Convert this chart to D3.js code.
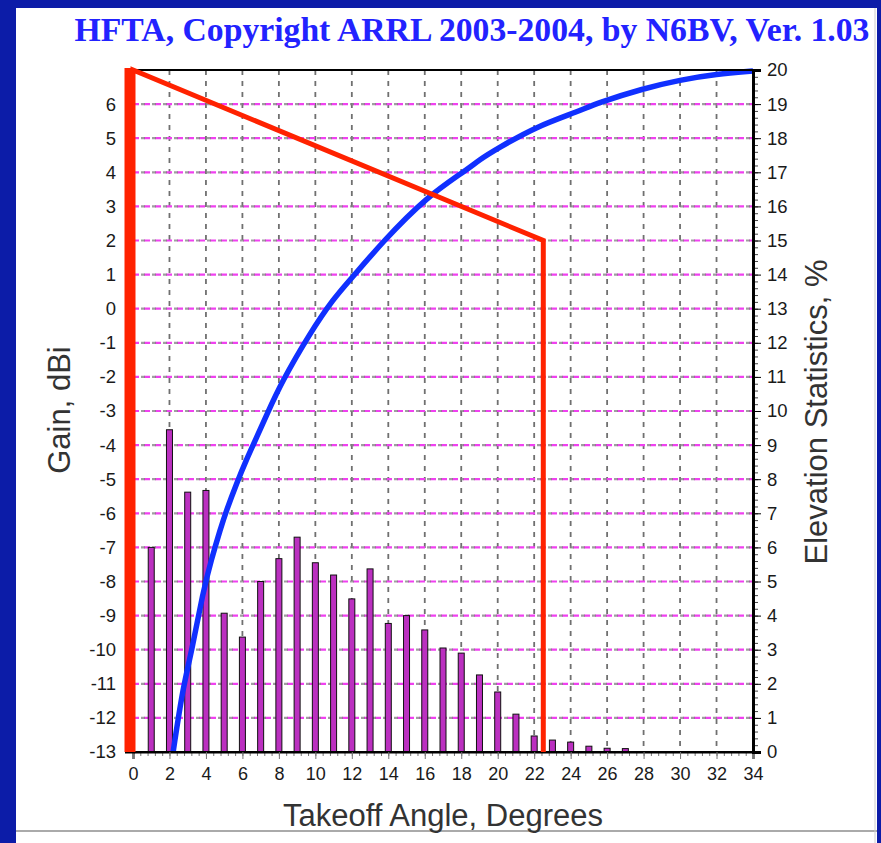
<!DOCTYPE html>
<html>
<head>
<meta charset="utf-8">
<script src="https://cdn.jsdelivr.net/npm/d3@7"></script>
<style>
  body { margin: 0; background: #0c1ca8; }
  .tick text { font-family: "Liberation Sans", Arial, sans-serif; fill: #1a1a1a; }
</style>
</head>
<body>
<div id="chart"></div>
<script>
// ticks
var angleTicks = [0, 2, 4, 6, 8, 10, 12, 14, 16, 18, 20, 22, 24, 26, 28, 30, 32, 34];
var gainTicks = [-13, -12, -11, -10, -9, -8, -7, -6, -5, -4, -3, -2, -1, 0, 1, 2, 3, 4, 5, 6];
var statTicks = [0, 1, 2, 3, 4, 5, 6, 7, 8, 9, 10, 11, 12, 13, 14, 15, 16, 17, 18, 19, 20];

// elevation statistics bars (%)
var barAngle = [1, 2, 3, 4, 5, 6, 7, 8, 9, 10, 11, 12, 13, 14, 15, 16, 17, 18, 19, 20, 21, 22, 23, 24, 25, 26, 27];
var barPct = [6.0, 9.45, 7.62, 7.67, 4.07, 3.37, 5.0, 5.67, 6.3, 5.55, 5.19, 4.49, 5.37, 3.77, 4.0, 3.58, 3.05, 2.9, 2.26, 1.76, 1.11, 0.47, 0.35, 0.29, 0.17, 0.11, 0.1];

// gain curve (dBi)
var gainAngle = [2.2, 2.74, 3.2, 3.84, 4.3, 4.8, 5.1, 5.7, 6.2, 6.8, 7.3, 8.15, 9.7, 11, 11.9, 13.7, 16.1, 18.3, 19, 20, 22.1, 24.5, 25.4, 28, 30, 32, 34];
var gainDbi = [-13, -11.1, -10.1, -8.3, -7.35, -6.45, -5.95, -5.1, -4.45, -3.75, -3.15, -2.15, -0.72, 0.3, 0.84, 1.97, 3.28, 4.07, 4.37, 4.7, 5.34, 5.8, 6.02, 6.46, 6.71, 6.88, 6.97];

// red range outline
var limitAngle = [0, 0, 22.5, 22.5];
var limitGain = [-13, 7, 2, -13];

var W = 881, H = 843;
var pL = 133, pR = 753, pT = 70, pB = 752;

var svg = d3.select("#chart").append("svg").attr("width", W).attr("height", H).style("display", "block");

// blue window frame + white panel
svg.append("rect").attr("width", W).attr("height", H).attr("fill", "#0c1ca8");
svg.append("rect").attr("x", 16).attr("y", 8).attr("width", 861).attr("height", H - 8).attr("fill", "#fff");
svg.append("line").attr("x1", 16).attr("x2", 877).attr("y1", 831).attr("y2", 831).attr("stroke", "#aaa").attr("stroke-width", 2);
svg.append("line").attr("x1", 875).attr("x2", 875).attr("y1", 8).attr("y2", H).attr("stroke", "#ccc").attr("stroke-width", 1);

var x = d3.scaleLinear().domain([0, 34]).range([pL, pR]);
var yG = d3.scaleLinear().domain([-13, 7]).range([pB, pT]);
var yS = d3.scaleLinear().domain([0, 20]).range([pB, pT]);
var plain = function(d) { return String(d); };

// title
svg.append("text").attr("x", 472).attr("y", 41).attr("text-anchor", "middle")
  .style("font-family", "'Liberation Serif', 'Times New Roman', serif").style("font-weight", "bold").style("font-size", "33.7px")
  .attr("fill", "#2222ff").text("HFTA, Copyright ARRL 2003-2004, by N6BV, Ver. 1.03");

// grid
var grid = svg.append("g");
grid.selectAll("vg").data(angleTicks.slice(1, -1)).enter().append("line")
  .attr("x1", function(d) { return x(d); }).attr("x2", function(d) { return x(d); })
  .attr("y1", pT).attr("y2", pB).attr("stroke", "#707070").attr("stroke-width", 1.8).attr("stroke-dasharray", "5,6");
grid.selectAll("hm").data(statTicks.slice(1, -1)).enter().append("line")
  .attr("x1", pL).attr("x2", pR).attr("y1", function(d) { return yS(d); }).attr("y2", function(d) { return yS(d); })
  .attr("stroke", "#f040f0").attr("stroke-width", 2.2).attr("stroke-dasharray", "6,5");
grid.selectAll("hg").data(gainTicks.slice(1)).enter().append("line")
  .attr("x1", pL).attr("x2", pR).attr("y1", function(d) { return yG(d); }).attr("y2", function(d) { return yG(d); })
  .attr("stroke", "#808080").attr("stroke-width", 2.2).attr("stroke-dasharray", "4,7").attr("stroke-dashoffset", 3).attr("opacity", 0.75);

// bars
svg.selectAll("bar").data(barAngle).enter().append("rect")
  .attr("x", function(d) { return x(d) - 3; }).attr("width", 6)
  .attr("y", function(d, i) { return yS(barPct[i]); })
  .attr("height", function(d, i) { return yS(0) - yS(barPct[i]); })
  .attr("fill", "#bb30c0").attr("stroke", "#111").attr("stroke-width", 1);

// gain curve
var gainPts = gainAngle.map(function(a, i) { return [a, gainDbi[i]]; });
svg.append("path").datum(gainPts)
  .attr("d", d3.line().curve(d3.curveBasis).x(function(d) { return x(d[0]); }).y(function(d) { return yG(d[1]); }))
  .attr("fill", "none").attr("stroke", "#1030ff").attr("stroke-width", 5.5);

// frame
svg.append("rect").attr("x", pL).attr("y", pT).attr("width", pR - pL).attr("height", pB - pT)
  .attr("fill", "none").attr("stroke", "#000").attr("stroke-width", 2);

// axes
var xMinor = d3.range(0, 34.01, 0.4);
svg.append("g").attr("transform", "translate(0," + pB + ")")
  .call(d3.axisBottom(x).tickValues(xMinor).tickSize(4).tickFormat(""))
  .call(function(g) { g.select(".domain").remove(); g.selectAll("line").attr("stroke", "#777"); });
svg.append("g").attr("transform", "translate(0," + pB + ")")
  .call(d3.axisBottom(x).tickValues(angleTicks).tickSize(7).tickPadding(8).tickFormat(plain))
  .call(function(g) { g.select(".domain").attr("stroke-width", 2); g.selectAll("line").attr("stroke", "#777"); g.selectAll("text").style("font-size", "18px"); });

svg.append("g").attr("transform", "translate(" + pL + ",0)")
  .call(d3.axisLeft(yG).tickValues(gainTicks).tickSize(8).tickPadding(9).tickFormat(plain))
  .call(function(g) { g.select(".domain").attr("stroke-width", 2); g.selectAll("text").style("font-size", "18.5px"); });

var sMinor = d3.range(0, 20.01, 0.2);
svg.append("g").attr("transform", "translate(" + pR + ",0)")
  .call(d3.axisRight(yS).tickValues(sMinor).tickSize(5).tickFormat(""))
  .call(function(g) { g.select(".domain").remove(); g.selectAll("line").attr("stroke", "#444"); });
svg.append("g").attr("transform", "translate(" + pR + ",0)")
  .call(d3.axisRight(yS).tickValues(statTicks).tickSize(8).tickPadding(6).tickFormat(plain))
  .call(function(g) { g.select(".domain").attr("stroke-width", 3); g.selectAll("text").style("font-size", "18.5px"); });

// red takeoff range outline
var limPts = limitAngle.map(function(a, i) { return [a, limitGain[i]]; });
svg.append("path").datum(limPts)
  .attr("d", d3.line().x(function(d) { return x(d[0]); }).y(function(d) { return yG(d[1]); }))
  .attr("fill", "none").attr("stroke", "#ff2200").attr("stroke-width", 5).attr("stroke-linejoin", "miter");
svg.append("line").attr("x1", x(0) - 4.5).attr("x2", x(0) - 4.5).attr("y1", yG(7) - 2).attr("y2", yG(-13))
  .attr("stroke", "#ff2200").attr("stroke-width", 8);

// axis titles
var lab = { "font-family": "'Liberation Sans', Arial, sans-serif", "font-size": "31px", "fill": "#333" };
function styleLab(t) { for (var k in lab) t.style(k, lab[k]); return t; }
styleLab(svg.append("text").attr("x", 443).attr("y", 826).attr("text-anchor", "middle").text("Takeoff Angle, Degrees"));
styleLab(svg.append("text").attr("transform", "translate(70,410) rotate(-90)").attr("text-anchor", "middle").text("Gain, dBi"));
styleLab(svg.append("text").attr("transform", "translate(827,412) rotate(-90)").attr("text-anchor", "middle").text("Elevation Statistics, %"));
</script>
</body>
</html>
